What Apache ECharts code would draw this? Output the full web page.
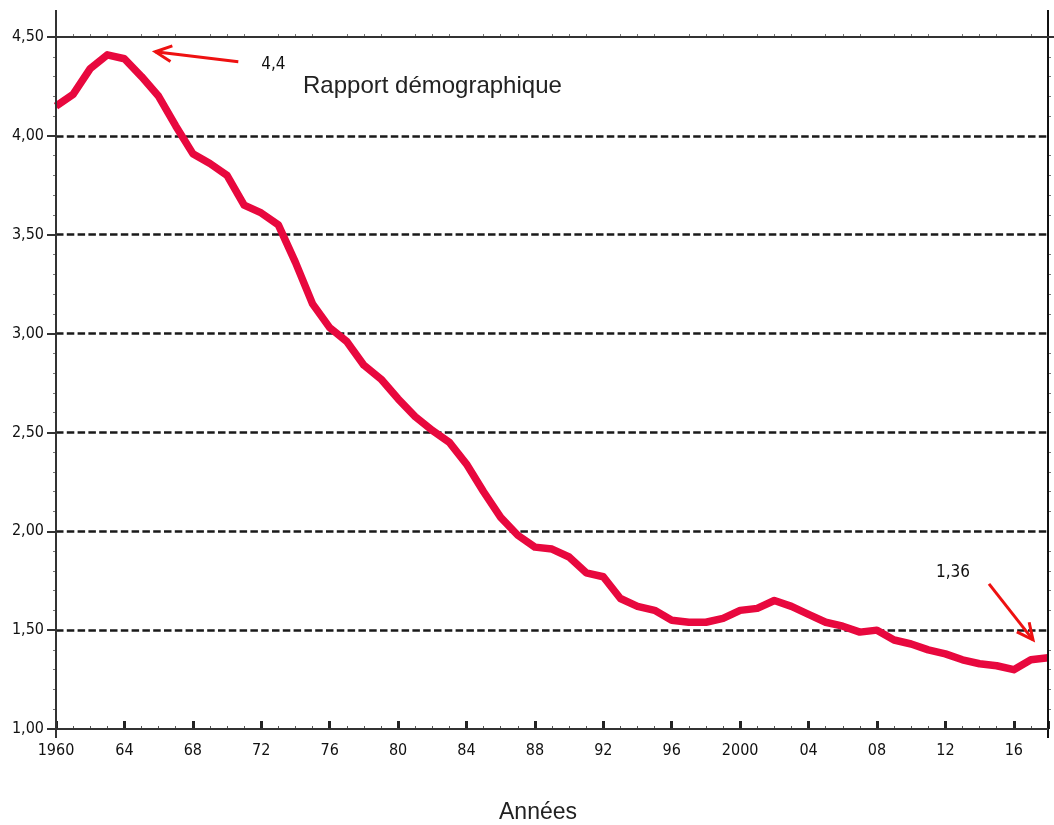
<!DOCTYPE html>
<html>
<head>
<meta charset="utf-8">
<script src="https://cdn.jsdelivr.net/npm/echarts@6/dist/echarts.min.js"></script>
<style>
html,body{margin:0;padding:0;background:#fff;}
#chart{width:1054px;height:825px;}
</style>
</head>
<body>
<div id="chart"></div>
<script>
const years = [1960,1961,1962,1963,1964,1965,1966,1967,1968,1969,
  1970,1971,1972,1973,1974,1975,1976,1977,1978,1979,
  1980,1981,1982,1983,1984,1985,1986,1987,1988,1989,
  1990,1991,1992,1993,1994,1995,1996,1997,1998,1999,
  2000,2001,2002,2003,2004,2005,2006,2007,2008,2009,
  2010,2011,2012,2013,2014,2015,2016,2017,2018];
const ratio = [4.15,4.21,4.34,4.41,4.39,4.30,4.20,4.05,3.91,3.86,
  3.80,3.65,3.61,3.55,3.36,3.15,3.03,2.96,2.84,2.77,
  2.67,2.58,2.51,2.45,2.34,2.20,2.07,1.98,1.92,1.91,
  1.87,1.79,1.77,1.66,1.62,1.60,1.55,1.54,1.54,1.56,
  1.60,1.61,1.65,1.62,1.58,1.54,1.52,1.49,1.50,1.45,
  1.43,1.40,1.38,1.35,1.33,1.32,1.30,1.35,1.36];
const seriesName = 'Rapport démographique';
const xAxisTitle = 'Années';
const yTicks = [1.00,1.50,2.00,2.50,3.00,3.50,4.00,4.50];
const annotations = [
  {year: 1963, value: 4.40, label: '4,4'},
  {year: 2018, value: 1.36, label: '1,36'}
];

const narrow = '"Liberation Sans Narrow","DejaVu Sans Condensed","Arial Narrow",sans-serif';
const sans = '"Liberation Sans",Arial,sans-serif';
const data = years.map((y, i) => [y, ratio[i]]);

const chart = echarts.init(document.getElementById('chart'), null, {renderer: 'canvas'});

function xLabel(v) {
  if (v === 1960 || v === 2000) return String(v);
  if (v >= 2018) return '';
  return String(v % 100).padStart(2, '0');
}

const option = {
  animation: false,
  backgroundColor: '#fff',
  grid: {left: 56, right: 6, top: 37, bottom: 96, containLabel: false},
  xAxis: [{
    type: 'value', min: 1960, max: 2018, interval: 4,
    axisLine: {show: true, onZero: false, lineStyle: {color: '#333', width: 2}},
    axisTick: {show: true, inside: true, length: 8, lineStyle: {color: '#222', width: 3}},
    minorTick: {show: true, splitNumber: 4, length: 3, lineStyle: {color: '#555', width: 1}},
    axisLabel: {formatter: xLabel, color: '#111', fontFamily: narrow, fontSize: 16, margin: 14, showMaxLabel: false},
    splitLine: {show: false}
  }, {
    type: 'value', min: 1960, max: 2018, interval: 4, position: 'top',
    axisLine: {show: true, onZero: false, lineStyle: {color: '#333', width: 2}},
    axisTick: {show: false},
    minorTick: {show: true, splitNumber: 4, length: 3, lineStyle: {color: '#777', width: 1}},
    axisLabel: {show: false},
    splitLine: {show: false}
  }],
  yAxis: [{
    type: 'value', min: 1, max: 4.5, interval: 0.5,
    axisLine: {show: true, onZero: false, lineStyle: {color: '#333', width: 2}},
    axisTick: {show: true, inside: false, length: 9, lineStyle: {color: '#333', width: 2}},
    minorTick: {show: true, splitNumber: 5, length: 3, lineStyle: {color: '#777', width: 1}},
    axisLabel: {formatter: v => v.toFixed(2).replace('.', ','), color: '#111', fontFamily: narrow, fontSize: 16, margin: 12},
    splitLine: {show: true, showMinLine: false, showMaxLine: false, lineStyle: {color: '#1a1a1a', width: 2.5, type: [7.5, 3.3]}}
  }, {
    type: 'value', min: 1, max: 4.5, interval: 0.5, position: 'right',
    axisLine: {show: true, onZero: false, lineStyle: {color: '#222', width: 2}},
    axisTick: {show: false},
    minorTick: {show: true, splitNumber: 5, length: 3, lineStyle: {color: '#777', width: 1}},
    axisLabel: {show: false},
    splitLine: {show: false}
  }],
  series: [{
    name: seriesName,
    type: 'line',
    data: data,
    showSymbol: false,
    symbol: 'none',
    lineStyle: {color: '#E8083E', width: 7.5, join: 'round'},
    z: 5
  }]
};
chart.setOption(option);

function arrow(x1, y1, x2, y2, color) {
  const ang = Math.atan2(y2 - y1, x2 - x1);
  const hl = 18, ha = 0.45;
  const p1 = [x2 - hl * Math.cos(ang - ha), y2 - hl * Math.sin(ang - ha)];
  const p2 = [x2 - hl * Math.cos(ang + ha), y2 - hl * Math.sin(ang + ha)];
  return [
    {type: 'line', shape: {x1, y1, x2, y2}, style: {stroke: color, lineWidth: 3}, z: 10},
    {type: 'polyline', shape: {points: [p1, [x2, y2], p2]}, style: {stroke: color, lineWidth: 3, fill: null}, z: 10}
  ];
}

const tl = chart.convertToPixel({xAxisIndex: 0, yAxisIndex: 0}, [1960, 4.5]);
const br = chart.convertToPixel({xAxisIndex: 0, yAxisIndex: 0}, [2018, 1]);
const peak = chart.convertToPixel({xAxisIndex: 0, yAxisIndex: 0}, [annotations[0].year, annotations[0].value]);
const last = chart.convertToPixel({xAxisIndex: 0, yAxisIndex: 0}, [annotations[1].year, annotations[1].value]);

const red = '#EE1111';
const graphics = [
  {type: 'line', shape: {x1: tl[0], y1: tl[1] - 27, x2: tl[0], y2: br[1] + 9}, style: {stroke: '#333', lineWidth: 2}, z: 8},
  {type: 'line', shape: {x1: br[0], y1: tl[1] - 27, x2: br[0], y2: br[1] + 9}, style: {stroke: '#111', lineWidth: 2}, z: 8},
  {type: 'line', shape: {x1: tl[0] - 9, y1: tl[1], x2: 1054, y2: tl[1]}, style: {stroke: '#333', lineWidth: 2}, z: 8},
  {type: 'line', shape: {x1: tl[0] - 9, y1: br[1], x2: br[0], y2: br[1]}, style: {stroke: '#333', lineWidth: 2}, z: 8},
  ...arrow(peak[0] + 131, peak[1] + 5, peak[0] + 48, peak[1] - 5, red),
  {type: 'text', x: peak[0] + 166, y: peak[1] + 8, style: {text: annotations[0].label, fill: '#111', font: '17px ' + narrow, textAlign: 'center', textVerticalAlign: 'middle'}, z: 10},
  {type: 'text', x: 303, y: 86, style: {text: seriesName, fill: '#222', font: '24px ' + sans, textAlign: 'left', textVerticalAlign: 'middle'}, z: 10},
  ...arrow(last[0] - 59, last[1] - 74, last[0] - 15, last[1] - 18, red),
  {type: 'text', x: last[0] - 95, y: last[1] - 85, style: {text: annotations[1].label, fill: '#111', font: '17px ' + narrow, textAlign: 'center', textVerticalAlign: 'middle'}, z: 10},
  {type: 'text', x: 538, y: 813, style: {text: xAxisTitle, fill: '#222', font: '23px ' + sans, textAlign: 'center', textVerticalAlign: 'middle'}, z: 10}
];
chart.setOption({graphic: graphics});
</script>
</body>
</html>
